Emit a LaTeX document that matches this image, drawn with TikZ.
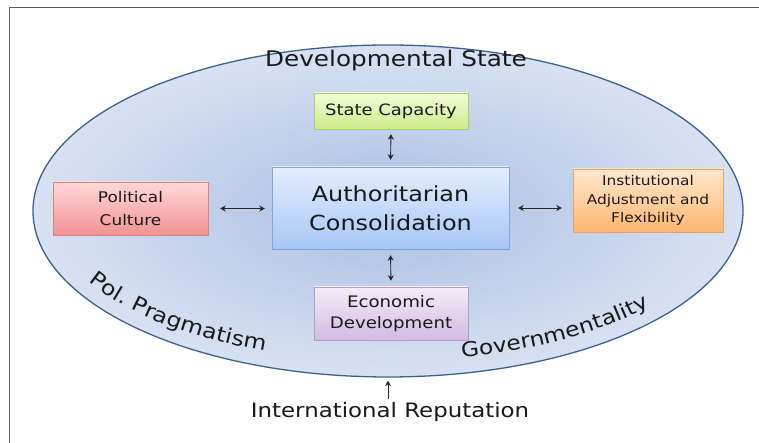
\documentclass[tikz,border=0pt]{standalone}
\usepackage{fontspec}
\setmainfont{DejaVu Sans}[FakeStretch=1.15]
\usetikzlibrary{shapes.geometric,arrows.meta,decorations.text,shadows}
\definecolor{ellin}{RGB}{170,190,227}
\definecolor{ellout}{RGB}{215,225,242}
\definecolor{ellline}{RGB}{62,96,142}
\definecolor{txt}{RGB}{25,25,25}
\begin{document}
\begin{tikzpicture}[x=1pt,y=1pt,
  box/.style={draw, rectangle, inner sep=0pt, align=center, text=txt,
    drop shadow={opacity=0.25, shadow xshift=1pt, shadow yshift=-1.5pt}},
  dbl/.style={{Stealth[length=5.5pt,width=6pt]}-{Stealth[length=5.5pt,width=6pt]}, line width=0.9pt, black!85},
  lbl/.style={text=txt, inner sep=0pt}
]
\useasboundingbox (0,0) rectangle (759,443);
\fill[white] (0,0) rectangle (759,443);
% frame
\draw[line width=1.6pt, black!65] (9.5,0) -- (9.5,435.5) -- (759,435.5);
% ellipse
\node[ellipse, draw=ellline, line width=1.3pt, inner color=ellin, outer color=ellout,
  minimum width=710pt, minimum height=332pt, inner sep=0pt] (ell) at (388,232) {};
% title
\node[lbl, font=\fontsize{21.5}{25}\selectfont] (ds) at (396,382) {Developmental State};
% boxes
\node[box, draw={rgb,255:red,170;green,205;blue,105}, top color={rgb,255:red,243;green,252;blue,214}, bottom color={rgb,255:red,204;green,236;blue,140},
  minimum width=154pt, minimum height=36pt, font=\fontsize{15.6}{19}\selectfont] (sc) at (391,332) {State Capacity};
\node[box, draw={rgb,255:red,128;green,166;blue,216}, top color={rgb,255:red,228;green,238;blue,255}, bottom color={rgb,255:red,166;green,198;blue,246},
  minimum width=237pt, minimum height=82pt, font=\fontsize{20.8}{29.3}\selectfont] (ac) at (390.5,235) {Authoritarian\\Consolidation};
\node[box, draw={rgb,255:red,180;green,155;blue,200}, top color={rgb,255:red,244;green,236;blue,247}, bottom color={rgb,255:red,211;green,186;blue,227},
  minimum width=154pt, minimum height=53pt, font=\fontsize{15.8}{21.7}\selectfont] (ed) at (391,129.5) {Economic\\Development};
\node[box, draw={rgb,255:red,216;green,130;blue,130}, top color={rgb,255:red,255;green,216;blue,216}, bottom color={rgb,255:red,242;green,146;blue,146},
  minimum width=155pt, minimum height=53pt, font=\fontsize{14.7}{22.3}\selectfont] (pc) at (130.5,234.5) {Political\\Culture};
\node[box, draw={rgb,255:red,232;green,162;blue,98}, top color={rgb,255:red,255;green,232;blue,206}, bottom color={rgb,255:red,255;green,182;blue,112},
  minimum width=150pt, minimum height=63pt, font=\fontsize{13.4}{18.5}\selectfont] (ia) at (648,242.5) {Institutional\\Adjustment and\\Flexibility};
% connectors
\draw[dbl, shorten <=5pt, shorten >=7pt] (sc.south) -- (ac.north);
\draw[dbl, shorten <=6pt, shorten >=6pt] (ac.south) -- (ed.north);
\draw[dbl, shorten <=12pt, shorten >=7pt] (pc.east) -- (pc.east -| ac.west);
\draw[dbl, shorten <=9pt, shorten >=11pt] (ac.east) -- (ac.east -| ia.west);
% international reputation
\node[lbl, font=\fontsize{19.9}{24}\selectfont] (ir) at (390,31) {International Reputation};
\draw[-{Stealth[length=5.5pt,width=6pt]}, line width=0.9pt, black!85, shorten <=3pt, shorten >=3pt] (ir.north -| ell.south) -- (ell.south);
% curved labels
\path[decorate, decoration={text along path, text align=center,
  text={|\fontsize{20.5}{24}\selectfont\color{txt}|Pol. Pragmatism}}]
  (388,232) ++(203:340pt and 150pt) arc[start angle=203, end angle=252, x radius=340pt, y radius=150pt];
\path[decorate, decoration={text along path, text align=center,
  text={|\fontsize{20.3}{24}\selectfont\color{txt}|Governmentality}}]
  (388,232) ++(-80:340pt and 150pt) arc[start angle=-80, end angle=-36, x radius=340pt, y radius=150pt];
\end{tikzpicture}
\end{document}
